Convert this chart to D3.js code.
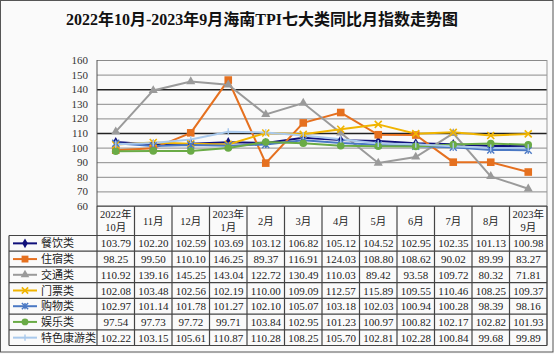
<!DOCTYPE html>
<html><head><meta charset="utf-8">
<script src="https://cdn.jsdelivr.net/npm/d3@7"></script>
<style>
html,body{margin:0;padding:0;background:#fafafa;}
svg{display:block;}
</style></head>
<body>
<svg id="chart" width="554" height="354"></svg>
<script>
const title = "2022年10月-2023年9月海南TPI七大类同比月指数走势图";
const months = ["2022年|10月","11月","12月","2023年|1月","2月","3月","4月","5月","6月","7月","8月","2023年|9月"];
const seriesNames = ["餐饮类","住宿类","交通类","门票类","购物类","娱乐类","特色康游类"];
const catering = [103.79,102.20,102.59,103.69,103.12,106.82,105.12,104.52,102.95,102.35,101.13,100.98];
const lodging = [98.25,99.50,110.10,146.25,89.37,116.91,124.03,108.80,108.62,90.02,89.99,83.27];
const transport = [110.92,139.16,145.25,143.04,122.72,130.49,110.03,89.42,93.58,109.72,80.32,71.81];
const tickets = [102.08,103.48,102.56,102.19,110.00,109.09,112.57,115.89,109.55,110.46,108.25,109.37];
const shopping = [102.97,101.14,101.78,101.27,102.10,105.07,103.18,102.03,100.94,100.28,98.39,98.16];
const entertainment = [97.54,97.73,97.72,99.71,103.84,102.95,101.23,100.97,100.82,102.17,102.82,101.93];
const special = [102.22,103.15,105.61,110.87,110.28,108.25,105.70,102.81,102.28,100.84,99.68,99.89];
const yTicks = [60,70,80,90,100,110,120,130,140,150,160];

const seriesValues = [catering,lodging,transport,tickets,shopping,entertainment,special];
const colors = ["#10107a","#e5701f","#9a9a9a","#f0b400","#4a78c4","#6aab46","#a9c9ec"];
const markers = ["diamond","square","triangle","x","asterisk","circle","plus"];

const svg = d3.select("#chart");
const L = 97, R = 547, T = 60, B = 206;
const labelX = 9;
const headerB = 235.5, tableB = 345.5;

// outer frame
svg.append("rect").attr("x",0.5).attr("y",0.5).attr("width",552.5).attr("height",351.5)
  .attr("fill","#fafafa").attr("stroke","#555").attr("stroke-width",1);

// title
svg.append("text").attr("x",262).attr("y",25).attr("text-anchor","middle")
  .attr("font-family","'Liberation Serif','Noto Sans CJK SC',serif").attr("font-weight","bold")
  .attr("font-size",16).attr("fill","#111").text(title);

const x = d3.scaleBand().domain(months).range([L,R]);
const y = d3.scaleLinear().domain([60,160]).range([B,T]);

// grid
const grid = svg.append("g").attr("transform",`translate(${L},0)`)
  .call(d3.axisLeft(y).tickValues(yTicks).tickSize(-(R-L)).tickFormat(""));
grid.select(".domain").remove();
grid.selectAll(".tick line").attr("stroke", d => (d===110||d===140) ? "#222" : "#8a8a8a")
  .attr("stroke-width", d => (d===110||d===140) ? 1.6 : 1);

// y axis labels
const ya = svg.append("g").attr("transform",`translate(${L-9},0)`)
  .call(d3.axisLeft(y).tickValues(yTicks).tickSize(0).tickPadding(0));
ya.select(".domain").remove();
ya.selectAll("text").attr("font-family","'Liberation Serif',serif").attr("font-size",11).attr("fill","#333");

// plot frame
svg.append("line").attr("x1",L).attr("x2",L).attr("y1",T).attr("y2",B).attr("stroke","#555");
svg.append("line").attr("x1",R).attr("x2",R).attr("y1",T).attr("y2",tableB).attr("stroke","#999");

// marker drawing
function drawMarker(g, type, color, s) {
  if (type==="diamond") g.append("path").attr("d",d3.symbol(d3.symbolDiamond, 30*s)()).attr("fill",color);
  else if (type==="square") g.append("rect").attr("x",-3.8*s).attr("y",-3.8*s).attr("width",7.6*s).attr("height",7.6*s).attr("fill",color);
  else if (type==="triangle") g.append("path").attr("d",d3.symbol(d3.symbolTriangle, 36*s)()).attr("fill",color);
  else if (type==="circle") g.append("circle").attr("r",3.8*s).attr("fill",color);
  else if (type==="x") {
    g.append("path").attr("d",`M${-3.5*s},${-3.5*s}L${3.5*s},${3.5*s}M${3.5*s},${-3.5*s}L${-3.5*s},${3.5*s}`).attr("stroke",color).attr("stroke-width",1.6);
  } else if (type==="asterisk") {
    g.append("path").attr("d",`M${-3.5*s},${-3.5*s}L${3.5*s},${3.5*s}M${3.5*s},${-3.5*s}L${-3.5*s},${3.5*s}M0,${-3.5*s}L0,${3.5*s}`).attr("stroke",color).attr("stroke-width",1.4);
  } else if (type==="plus") {
    g.append("path").attr("d",`M0,${-3.5*s}L0,${3.5*s}`).attr("stroke",color).attr("stroke-width",1.4);
  }
}

// lines
const line = d3.line().x((d,i)=>x(months[i])+x.bandwidth()/2).y(d=>y(d));
seriesValues.forEach((vals,si)=>{
  svg.append("path").datum(vals).attr("d",line).attr("fill","none")
    .attr("stroke",colors[si]).attr("stroke-width",2);
});
seriesValues.forEach((vals,si)=>{
  vals.forEach((v,i)=>{
    const g = svg.append("g").attr("transform",`translate(${x(months[i])+x.bandwidth()/2},${y(v)})`);
    drawMarker(g, markers[si], colors[si], 1);
  });
});

// table
const tb = svg.append("g");
const tStroke = "#444";
const rowH = (tableB-headerB)/seriesNames.length;
// header borders
tb.append("line").attr("x1",L).attr("x2",R).attr("y1",B).attr("y2",B).attr("stroke",tStroke).attr("stroke-width",1.2);
tb.append("line").attr("x1",labelX).attr("x2",R).attr("y1",headerB).attr("y2",headerB).attr("stroke",tStroke).attr("stroke-width",1.2);
seriesNames.forEach((n,ri)=>{
  const yb = headerB + rowH*(ri+1);
  tb.append("line").attr("x1",labelX).attr("x2",R).attr("y1",yb).attr("y2",yb).attr("stroke",tStroke).attr("stroke-width",1.2);
});
// vertical borders
tb.append("line").attr("x1",labelX).attr("x2",labelX).attr("y1",headerB).attr("y2",tableB).attr("stroke",tStroke).attr("stroke-width",1.2);
months.forEach((m,i)=>{
  const xx = x(m);
  tb.append("line").attr("x1",xx).attr("x2",xx).attr("y1",B).attr("y2",tableB).attr("stroke",tStroke).attr("stroke-width",1.2);
});
tb.append("line").attr("x1",R).attr("x2",R).attr("y1",B).attr("y2",tableB).attr("stroke",tStroke).attr("stroke-width",1.2);

const fontT = "'Liberation Serif','Noto Sans CJK SC',serif";
// header text
months.forEach((m,i)=>{
  const cx = x(m)+x.bandwidth()/2;
  const parts = m.split("|");
  if (parts.length===2) {
    tb.append("text").attr("x",cx).attr("y",B+12).attr("text-anchor","middle").attr("font-family",fontT).attr("font-size",10.5).attr("fill","#222").text(parts[0]);
    tb.append("text").attr("x",cx).attr("y",B+25).attr("text-anchor","middle").attr("font-family",fontT).attr("font-size",10.5).attr("fill","#222").text(parts[1]);
  } else {
    tb.append("text").attr("x",cx).attr("y",B+19).attr("text-anchor","middle").attr("font-family",fontT).attr("font-size",10.5).attr("fill","#222").text(parts[0]);
  }
});
// rows
seriesNames.forEach((n,ri)=>{
  const cy = headerB + rowH*(ri+0.5);
  tb.append("line").attr("x1",13).attr("x2",37).attr("y1",cy).attr("y2",cy).attr("stroke",colors[ri]).attr("stroke-width",2);
  const g = tb.append("g").attr("transform",`translate(25,${cy})`);
  drawMarker(g, markers[ri], colors[ri], 0.9);
  tb.append("text").attr("x",41).attr("y",cy+4).attr("font-family",fontT).attr("font-size",11).attr("fill","#222").text(n);
  seriesValues[ri].forEach((v,i)=>{
    tb.append("text").attr("x",x(months[i])+x.bandwidth()/2).attr("y",cy+4).attr("text-anchor","middle")
      .attr("font-family",fontT).attr("font-size",11).attr("fill","#222").text(v.toFixed(2));
  });
});
</script>
</body></html>
